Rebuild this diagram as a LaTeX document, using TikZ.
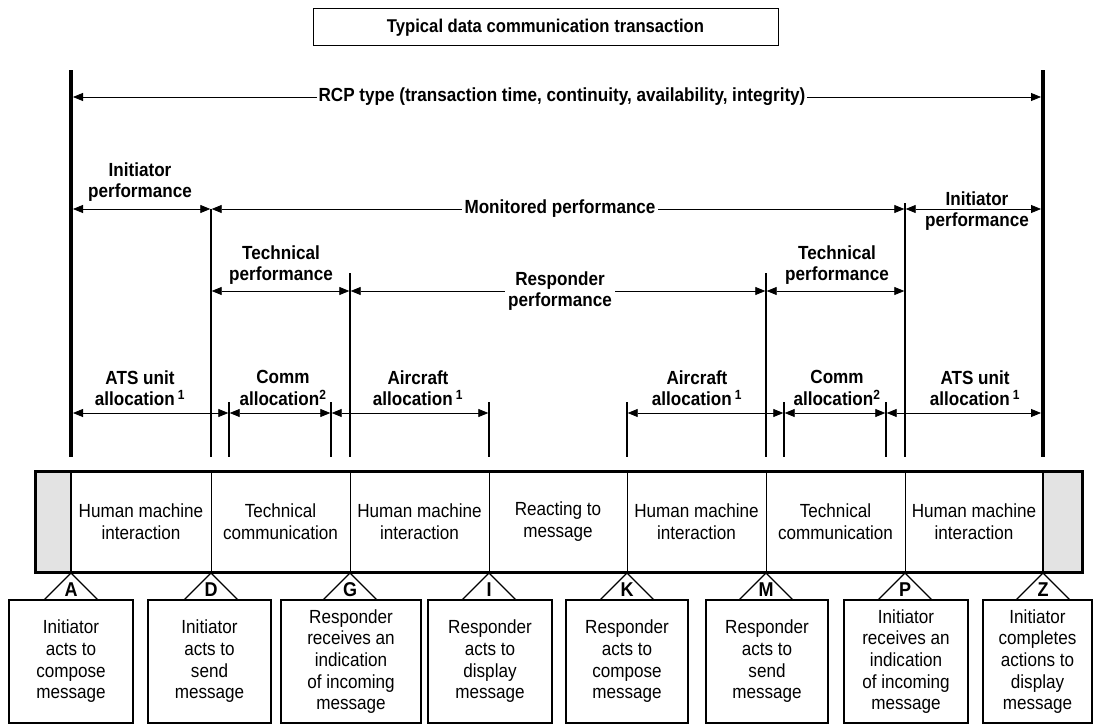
\documentclass[tikz,border=0pt]{standalone}
\usepackage{fontspec}
\setmainfont{Liberation Sans}
\newfontfamily\narrowsans[FakeStretch=0.9]{Liberation Sans}
\usetikzlibrary{arrows.meta}
\begin{document}
\begin{tikzpicture}[x=1pt,y=-1pt,
  lbl/.style={font=\narrowsans\fontsize{19}{21.5}\selectfont\bfseries, align=center, inner sep=1pt},
  txt/.style={font=\narrowsans\fontsize{19}{21.7}\selectfont, align=center},
  dim/.style={line width=0.8pt, {Triangle[length=10pt,width=8pt]}-{Triangle[length=10pt,width=8pt]}},
  thickbar/.style={line width=3.6pt},
  thinbar/.style={line width=1.3pt},
  box/.style={draw, line width=1.3pt, minimum height=123pt, inner sep=0pt, txt},
  leg/.style={line width=1.2pt},
  letter/.style={font=\narrowsans\fontsize{20}{20}\selectfont\bfseries, inner sep=0pt}
]
\useasboundingbox (0,0) rectangle (1097,725);

% title
\node[draw, line width=1pt, minimum width=465pt, minimum height=37pt,
      font=\narrowsans\fontsize{18.5}{20}\selectfont\bfseries] (title) at (545.5,27.5)
      {Typical data communication transaction};

% outer time bars
\coordinate (Lt) at (71,70);   \coordinate (Lb) at (71,457);
\coordinate (Rt) at (1043,70); \coordinate (Rb) at (1043,457);
\draw[thickbar] (Lt) -- (Lb);
\draw[thickbar] (Rt) -- (Rb);

% inner boundaries
\coordinate (V1t) at (211,209); \coordinate (V1b) at (211,457);
\coordinate (V2t) at (350,273); \coordinate (V2b) at (350,457);
\coordinate (V3t) at (766,273); \coordinate (V3b) at (766,457);
\coordinate (V4t) at (905,203); \coordinate (V4b) at (905,457);
\foreach \v in {V1,V2,V3,V4} \draw[thinbar] (\v t) -- (\v b);

% allocation ticks
\foreach \n/\x in {a/229,b/331,c/489,d/627,e/784,f/886}{
  \coordinate (T\n t) at (\x,402);
  \coordinate (T\n b) at (\x,457);
  \draw[thinbar] (T\n t) -- (T\n b);
}

% RCP row
\coordinate (r1) at (73,97); \coordinate (r2) at (1041,97);
\draw[dim] (r1) -- (r2);
\node[lbl, fill=white, inner sep=2pt] (rcp) at (562,97)
  {RCP type (transaction time, continuity, availability, integrity)};

% monitored row
\coordinate (m0) at (73,209);   \coordinate (m1) at (210.3,209);
\coordinate (m2) at (211.7,209); \coordinate (m3) at (904.3,209);
\coordinate (m4) at (905.7,209); \coordinate (m5) at (1041,209);
\draw[dim] (m0) -- (m1);
\draw[dim] (m2) -- (m3);
\draw[dim] (m4) -- (m5);
\node[lbl] (initL) at (140,182) {Initiator\\performance};
\node[lbl, fill=white, inner sep=3pt] (mon) at (560,209) {Monitored performance};
\node[lbl] (initR) at (977,211) {Initiator\\performance};

% technical / responder row
\coordinate (t0) at (211.7,291); \coordinate (t1) at (349.3,291);
\coordinate (t2) at (350.7,291); \coordinate (t3) at (765.3,291);
\coordinate (t4) at (766.7,291); \coordinate (t5) at (904.3,291);
\draw[dim] (t0) -- (t1);
\draw[dim] (t2) -- (t3);
\draw[dim] (t4) -- (t5);
\node[lbl] (techL) at (281,265) {Technical\\performance};
\node[lbl, fill=white, inner sep=3pt] (resp) at (560,291) {Responder\\performance};
\node[lbl] (techR) at (837,265) {Technical\\performance};

% allocation row
\coordinate (a0) at (73,413);    \coordinate (a1) at (228.3,413);
\coordinate (a2) at (229.7,413); \coordinate (a3) at (330.3,413);
\coordinate (a4) at (331.7,413); \coordinate (a5) at (488.3,413);
\coordinate (a6) at (627.7,413); \coordinate (a7) at (783.3,413);
\coordinate (a8) at (784.7,413); \coordinate (a9) at (885.3,413);
\coordinate (a10) at (886.7,413); \coordinate (a11) at (1041,413);
\draw[dim] (a0) -- (a1);
\draw[dim] (a2) -- (a3);
\draw[dim] (a4) -- (a5);
\draw[dim] (a6) -- (a7);
\draw[dim] (a8) -- (a9);
\draw[dim] (a10) -- (a11);
\node[lbl] (atsL) at (140,388) {ATS unit\\allocation\,\textsuperscript{1}};
\node[lbl] (comL) at (283,388) {Comm\\allocation\textsuperscript{2}};
\node[lbl] (acL)  at (418,388) {Aircraft\\allocation\,\textsuperscript{1}};
\node[lbl] (acR)  at (697,388) {Aircraft\\allocation\,\textsuperscript{1}};
\node[lbl] (comR) at (837,388) {Comm\\allocation\textsuperscript{2}};
\node[lbl] (atsR) at (975,388) {ATS unit\\allocation\,\textsuperscript{1}};

% activity band
\fill[gray!22] (35,471) rectangle (71,572);
\fill[gray!22] (1043,471) rectangle (1082,572);
\foreach \x in {211,350,489,627,766,905}
  \draw[line width=1pt] (\x,471) -- (\x,572);
\draw[line width=2.6pt] (71,471) -- (71,572);
\draw[line width=2.6pt] (1043,471) -- (1043,572);
\draw[line width=3pt] (35,471) rectangle (1082,572);

\node[txt] (s1) at (141,521.5) {Human machine\\interaction};
\node[txt] (s2) at (280.5,521.5) {Technical\\communication};
\node[txt] (s3) at (419.5,521.5) {Human machine\\interaction};
\node[txt] (s4) at (558,521.5) {Reacting to\\message};
\node[txt] (s5) at (696.5,521.5) {Human machine\\interaction};
\node[txt] (s6) at (835.5,521.5) {Technical\\communication};
\node[txt] (s7) at (974,521.5) {Human machine\\interaction};

% event boxes
\node[box, minimum width=124pt] (bA) at (71,661.5)    {Initiator\\acts to\\compose\\message};
\node[box, minimum width=123pt] (bD) at (209.5,661.5) {Initiator\\acts to\\send\\message};
\node[box, minimum width=140pt] (bG) at (351,661.5)   {Responder\\receives an\\indication\\of incoming\\message};
\node[box, minimum width=124pt] (bI) at (490,661.5)   {Responder\\acts to\\display\\message};
\node[box, minimum width=122pt] (bK) at (627,661.5)   {Responder\\acts to\\compose\\message};
\node[box, minimum width=122pt] (bM) at (767,661.5)   {Responder\\acts to\\send\\message};
\node[box, minimum width=124pt] (bP) at (906,661.5)   {Initiator\\receives an\\indication\\of incoming\\message};
\node[box, minimum width=109pt] (bZ) at (1037.5,661.5){Initiator\\completes\\actions to\\display\\message};

% event markers
\foreach \n/\x in {A/71,D/211,G/350,I/489,K/627,M/766,P/905,Z/1043}{
  \coordinate (p\n) at (\x,573);
  \draw[leg] (p\n) -- +(-27,27);
  \draw[leg] (p\n) -- +(27,27);
  \node[letter] (l\n) at (\x,590) {\n};
}
\end{tikzpicture}
\end{document}
